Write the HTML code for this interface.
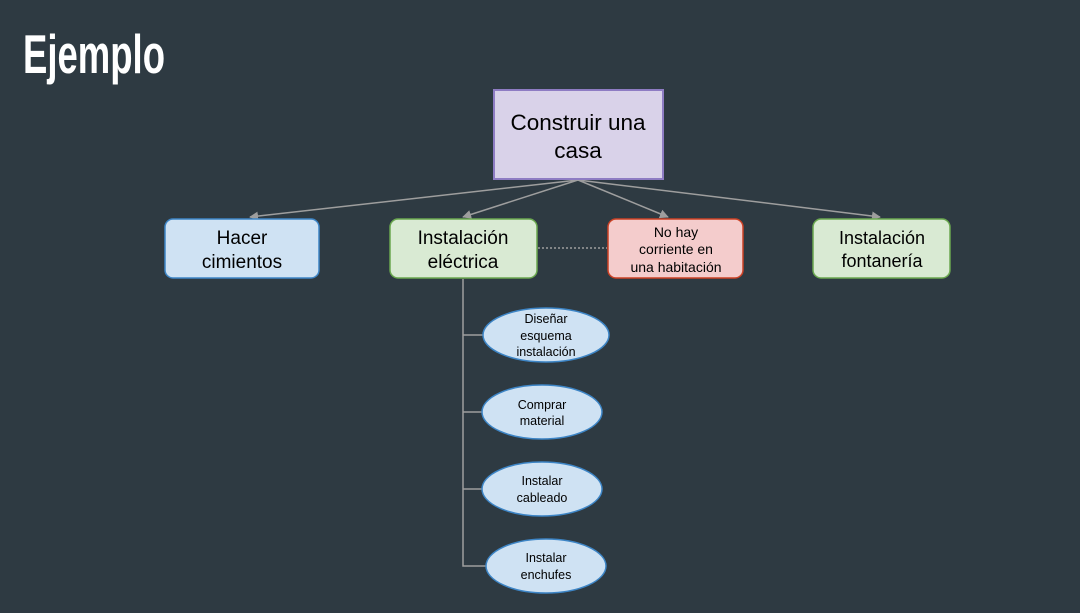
<!DOCTYPE html>
<html><head><meta charset="utf-8"><style>
html,body{margin:0;padding:0;background:#2e3a42;}
svg{display:block;}
text{font-family:"Liberation Sans",Arial,sans-serif;fill:#000;}
</style></head><body>
<svg width="1080" height="613" viewBox="0 0 1080 613" xmlns="http://www.w3.org/2000/svg">
<defs>
<marker id="a" viewBox="0 0 10 10" refX="9" refY="5" markerWidth="6" markerHeight="6" orient="auto"><path d="M0,0L10,5L0,10z" fill="#9e9e9e"/></marker>
</defs>
<rect width="1080" height="613" fill="#2e3a42"/>
<text x="23" y="73" font-size="55" font-weight="bold" textLength="142" lengthAdjust="spacingAndGlyphs" style="fill:#fff">Ejemplo</text>
<g stroke="#9e9e9e" stroke-width="1.5" fill="none">
<line x1="578" y1="180" x2="250" y2="217" marker-end="url(#a)"/>
<line x1="578" y1="180" x2="463" y2="217" marker-end="url(#a)"/>
<line x1="578" y1="180" x2="668" y2="217" marker-end="url(#a)"/>
<line x1="578" y1="180" x2="880" y2="217" marker-end="url(#a)"/>
<line x1="538" y1="248" x2="607" y2="248" stroke-dasharray="2,2"/>
<polyline points="463,279 463,566 486,566"/>
<line x1="463" y1="335" x2="484" y2="335"/>
<line x1="463" y1="412" x2="482" y2="412"/>
<line x1="463" y1="489" x2="482" y2="489"/>
</g>
<rect x="494" y="90" width="169" height="89" fill="#d9d2e9" stroke="#8e7cc3" stroke-width="2"/>
<text x="578" y="130" font-size="22.5" text-anchor="middle">Construir una</text>
<text x="578" y="158" font-size="22.5" text-anchor="middle">casa</text>
<rect x="165" y="219" width="154" height="59" rx="8" fill="#cfe2f3" stroke="#3d85c6" stroke-width="1.5"/>
<text x="242" y="244" font-size="19" text-anchor="middle">Hacer</text>
<text x="242" y="268" font-size="19" text-anchor="middle">cimientos</text>
<rect x="390" y="219" width="147" height="59" rx="8" fill="#d9ead3" stroke="#6aa84f" stroke-width="1.5"/>
<text x="463" y="244" font-size="19" text-anchor="middle">Instalación</text>
<text x="463" y="268" font-size="19" text-anchor="middle">eléctrica</text>
<rect x="608" y="219" width="135" height="59" rx="8" fill="#f4cccc" stroke="#cc4125" stroke-width="1.5"/>
<text x="676" y="237" font-size="14" text-anchor="middle">No hay</text>
<text x="676" y="254" font-size="14" text-anchor="middle">corriente en</text>
<text x="676" y="272" font-size="14" text-anchor="middle">una habitación</text>
<rect x="813" y="219" width="137" height="59" rx="8" fill="#d9ead3" stroke="#6aa84f" stroke-width="1.5"/>
<text x="882" y="244" font-size="18" text-anchor="middle">Instalación</text>
<text x="882" y="267" font-size="18" text-anchor="middle">fontanería</text>
<g fill="#cfe2f3" stroke="#3d85c6" stroke-width="1.5">
<ellipse cx="546" cy="335" rx="63" ry="27"/>
<ellipse cx="542" cy="412" rx="60" ry="27"/>
<ellipse cx="542" cy="489" rx="60" ry="27"/>
<ellipse cx="546" cy="566" rx="60" ry="27"/>
</g>
<g font-size="12.5" text-anchor="middle">
<text x="546" y="323">Diseñar</text>
<text x="546" y="340">esquema</text>
<text x="546" y="356">instalación</text>
<text x="542" y="409">Comprar</text>
<text x="542" y="425">material</text>
<text x="542" y="485">Instalar</text>
<text x="542" y="502">cableado</text>
<text x="546" y="562">Instalar</text>
<text x="546" y="579">enchufes</text>
</g>
</svg>
</body></html>
